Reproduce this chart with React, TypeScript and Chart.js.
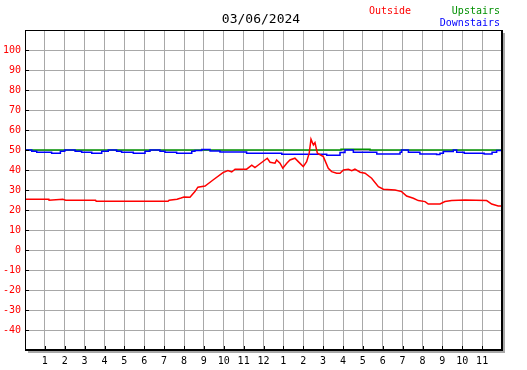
import React, { useEffect, useRef } from "react";
import { Chart, registerables } from "chart.js";

Chart.register(...registerables);

const chartTitle = "03/06/2024";
const seriesNames = ["Outside", "Downstairs", "Upstairs"];
const seriesColors = ["#ff0000", "#0000ff", "#009000"];

// hour of day -> temperature
const outsideHours = [0, 1.2, 1.21, 1.9, 2.05, 3.55, 3.58, 7.2, 7.25, 7.65, 7.85, 8.0, 8.3, 8.55, 8.7, 9.06, 9.46, 9.96, 10.21, 10.4, 10.57, 11.15, 11.41, 11.57, 11.74, 12.19, 12.33, 12.58, 12.66, 12.83, 12.97, 13.17, 13.33, 13.58, 13.75, 14.0, 14.17, 14.3, 14.39, 14.51, 14.59, 14.71, 15.01, 15.26, 15.43, 15.68, 15.85, 16.02, 16.27, 16.44, 16.6, 16.86, 17.11, 17.44, 17.78, 18.03, 18.62, 18.95, 19.2, 19.54, 19.79, 20.13, 20.29, 20.88, 21.13, 21.47, 22.14, 23.23, 23.48, 23.81, 24];
const outsideTemps = [25.4, 25.4, 24.9, 25.4, 24.9, 24.9, 24.4, 24.4, 24.9, 25.4, 26, 26.5, 26.4, 29.2, 31.4, 32, 35, 38.7, 39.7, 39, 40.4, 40.4, 42.4, 41.2, 42.5, 45.9, 43.9, 43.4, 45, 43.4, 40.9, 43.4, 45, 45.9, 44.2, 41.7, 44.2, 48.4, 55.4, 52.5, 53.7, 48.4, 46.7, 40.9, 39.2, 38.4, 38.4, 40, 40.4, 39.7, 40.4, 38.9, 38.4, 35.9, 31.7, 30.4, 30, 29.2, 27, 25.9, 24.7, 24.2, 23, 23, 24.2, 24.7, 25, 24.7, 23, 22, 22];

// change points: value holds from each hour until the next one
const downstairsHours = [0, 0.34, 0.59, 1.34, 1.78, 2.0, 2.52, 2.85, 3.36, 3.86, 4.19, 4.61, 4.86, 5.45, 6.04, 6.29, 6.79, 7.04, 7.63, 8.39, 8.55, 8.89, 9.31, 9.81, 11.15, 12.92, 15.18, 15.85, 16.1, 16.52, 17.7, 18.87, 18.95, 19.29, 19.87, 20.71, 20.88, 21.05, 21.55, 21.72, 22.1, 23.1, 23.5, 23.73, 24];
const downstairsTemps = [50, 49.4, 48.9, 48.4, 49.4, 50, 49.4, 48.9, 48.4, 49.4, 50, 49.4, 48.9, 48.4, 49.4, 50, 49.4, 48.9, 48.4, 49.4, 49.7, 50.3, 49.5, 49, 48.4, 47.9, 47.4, 48.7, 50, 48.9, 48, 48.9, 50, 48.9, 48, 47.7, 48.4, 49.2, 50, 48.9, 48.4, 48, 48.9, 49.7, 50];

const upstairsHours = [0, 15.9, 17.36, 24];
const upstairsTemps = [50, 50.4, 50, 50];

const hourLabels = ["1", "2", "3", "4", "5", "6", "7", "8", "9", "10", "11", "12", "1", "2", "3", "4", "5", "6", "7", "8", "9", "10", "11"];
const yMin = -50;
const yMax = 110;
const yLabelMin = -40;
const yLabelMax = 100;

const MONO = "'DejaVu Sans Mono', monospace";

const toPoints = (xs: number[], ys: number[]) => xs.map((x, i) => ({ x, y: ys[i] }));

const framePlugin = {
  id: "frame",
  beforeDraw(chart: any) {
    const { ctx, chartArea: a } = chart;
    ctx.save();
    ctx.fillStyle = "#ffffff";
    ctx.fillRect(0, 0, chart.width, chart.height);
    ctx.fillStyle = "#a8a8a8";
    ctx.fillRect(a.left + 3, a.top + 3, a.right - a.left, a.bottom - a.top);
    ctx.fillStyle = "#ffffff";
    ctx.fillRect(a.left, a.top, a.right - a.left, a.bottom - a.top);
    ctx.restore();
  },
  afterDraw(chart: any) {
    const { ctx, chartArea: a } = chart;
    const xs = chart.scales.x;
    const ys = chart.scales.y;
    const w = a.right - a.left;
    const h = a.bottom - a.top;
    ctx.save();
    ctx.strokeStyle = "#000000";
    ctx.lineWidth = 1;
    ctx.beginPath();
    for (let v = yLabelMin; v <= yLabelMax; v += 10) {
      const y = Math.round(ys.getPixelForValue(v)) + 0.5;
      ctx.moveTo(a.left, y);
      ctx.lineTo(a.left + 4, y);
    }
    for (let i = 1; i <= hourLabels.length; i++) {
      const x = Math.round(xs.getPixelForValue(i)) + 0.5;
      ctx.moveTo(x, a.bottom - 4);
      ctx.lineTo(x, a.bottom);
    }
    ctx.stroke();
    ctx.strokeRect(a.left + 0.5, a.top + 0.5, w, h);
    ctx.fillStyle = "#000000";
    ctx.fillRect(a.right - 1, a.top, 2, h + 1);
    ctx.fillRect(a.left, a.bottom - 1, w + 1, 2);

    ctx.textBaseline = "middle";
    ctx.font = "13px " + MONO;
    ctx.textAlign = "center";
    ctx.fillText(chartTitle, 261, 20);

    ctx.font = "10px " + MONO;
    ctx.textAlign = "left";
    ctx.fillStyle = seriesColors[0];
    ctx.fillText(seriesNames[0], 369, 11);
    ctx.textAlign = "right";
    ctx.fillStyle = seriesColors[2];
    ctx.fillText(seriesNames[2], 500, 11);
    ctx.fillStyle = seriesColors[1];
    ctx.fillText(seriesNames[1], 500, 23);
    ctx.restore();
  },
};

export default function App() {
  const ref = useRef<HTMLCanvasElement | null>(null);
  useEffect(() => {
    if (!ref.current) return;
    const chart = new Chart(ref.current, {
      type: "line",
      data: {
        datasets: [
          {
            label: seriesNames[0],
            data: toPoints(outsideHours, outsideTemps),
            borderColor: seriesColors[0],
            backgroundColor: seriesColors[0],
            borderWidth: 1.5,
            pointRadius: 0,
            tension: 0,
          },
          {
            label: seriesNames[1],
            data: toPoints(downstairsHours, downstairsTemps),
            borderColor: seriesColors[1],
            backgroundColor: seriesColors[1],
            borderWidth: 1.5,
            pointRadius: 0,
            stepped: "before",
          },
          {
            label: seriesNames[2],
            data: toPoints(upstairsHours, upstairsTemps),
            borderColor: seriesColors[2],
            backgroundColor: seriesColors[2],
            borderWidth: 1.5,
            pointRadius: 0,
            stepped: "before",
          },
        ],
      },
      options: {
        responsive: false,
        animation: false,
        devicePixelRatio: 1,
        layout: { padding: { left: 0, top: 30, right: 25, bottom: 0 } },
        plugins: {
          legend: { display: false },
          title: { display: false },
          tooltip: { enabled: false },
        },
        scales: {
          x: {
            type: "linear",
            min: 0,
            max: 24,
            afterFit: (s: any) => {
              s.height = 20;
            },
            border: { display: false },
            grid: { color: "#a8a8a8", lineWidth: 1, drawTicks: false },
            ticks: {
              stepSize: 1,
              autoSkip: false,
              maxRotation: 0,
              padding: 5,
              color: "#000000",
              font: { family: MONO, size: 10 },
              callback: (v: any) => {
                const n = Math.round(Number(v));
                return n >= 1 && n <= hourLabels.length ? hourLabels[n - 1] : "";
              },
            },
          },
          y: {
            type: "linear",
            min: yMin,
            max: yMax,
            afterFit: (s: any) => {
              s.width = 25;
            },
            border: { display: false },
            grid: { color: "#a8a8a8", lineWidth: 1, drawTicks: false },
            ticks: {
              stepSize: 10,
              autoSkip: false,
              padding: 4,
              color: "#ff0000",
              font: { family: MONO, size: 10 },
              callback: (v: any) => {
                const n = Math.round(Number(v));
                return n >= yLabelMin && n <= yLabelMax ? String(n) : "";
              },
            },
          },
        },
      },
      plugins: [framePlugin],
    });
    return () => chart.destroy();
  }, []);
  return (
    <div style={{ position: "fixed", left: 0, top: 0, width: 527, height: 370, background: "#fff" }}>
      <canvas ref={ref} width={527} height={370} style={{ display: "block" }} />
    </div>
  );
}
